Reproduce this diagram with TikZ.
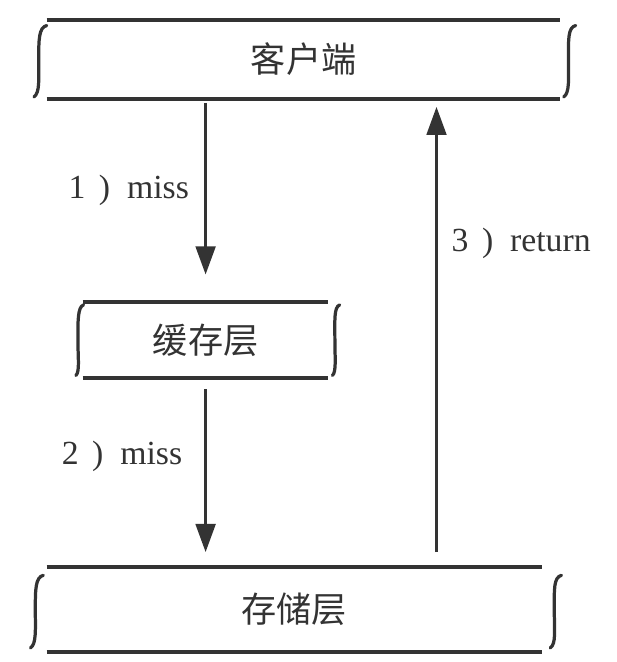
\documentclass[tikz,border=0pt]{standalone}
\usepackage{fontspec}
\setmainfont{Liberation Serif}
\newfontfamily\cjk{Noto Sans CJK SC}
\usetikzlibrary{arrows.meta}

\tikzset{
  layer/.style={minimum height=1.95cm, inner sep=0pt, font=\cjk\fontsize{25}{30}\selectfont, text=black!80},
  rim/.style={line width=2.6pt, draw=black!80},
  side/.style={line width=2.3pt, draw=black!80, line cap=round},
  flow/.style={line width=2.1pt, draw=black!80, -{Triangle[length=20pt,width=14pt]}},
  steplabel/.style={font=\fontsize{24}{28}\selectfont, text=black!80}
}

\begin{document}
\begin{tikzpicture}
		\useasboundingbox (0,0) rectangle (15.4,16.55);
		\node[layer, minimum width=12.83cm] (client) at (7.59,15.06) {客户端};
		\node[layer, minimum width=6.13cm, minimum height=1.9cm] (cache) at (5.14,8.05) {缓存层};
		\node[layer, minimum width=12.38cm, minimum height=2.1cm] (store) at (7.36,1.31) {存储层};
		\coordinate (back) at (10.9125,8);
		% top and bottom edges
		\draw[rim] (client.north west) -- (client.north east);
		\draw[rim] (client.south west) -- (client.south east);
		\draw[rim] (cache.north west) -- (cache.north east);
		\draw[rim] (cache.south west) -- (cache.south east);
		\draw[rim] (store.north west) -- (store.north east);
		\draw[rim] (store.south west) -- (store.south east);
		% curled sides
		\draw[side] ([xshift=0cm,yshift=-0.13cm]client.north west) .. controls +(-0.2,-0.05) and +(0,0.5) .. ([xshift=-0.2cm]client.west) .. controls +(0,-0.5) and +(0.15,0.1) .. ([xshift=-0.32cm,yshift=0.05cm]client.south west);
		\draw[side] ([xshift=0.38cm,yshift=-0.13cm]client.north east) .. controls +(-0.2,-0.05) and +(0,0.5) .. ([xshift=0.2cm]client.east) .. controls +(0,-0.5) and +(0.15,0.1) .. ([xshift=0.08cm,yshift=0.05cm]client.south east);
		\draw[side] ([xshift=0.02cm,yshift=-0.08cm]cache.north west) .. controls +(-0.15,-0.05) and +(0,0.45) .. ([xshift=-0.12cm]cache.west) .. controls +(0,-0.45) and +(0.1,0.1) .. ([xshift=-0.17cm,yshift=0.07cm]cache.south west);
		\draw[side] ([xshift=0.28cm,yshift=-0.08cm]cache.north east) .. controls +(-0.15,-0.05) and +(0,0.45) .. ([xshift=0.16cm]cache.east) .. controls +(0,-0.45) and +(0.1,0.1) .. ([xshift=0.1cm,yshift=0.07cm]cache.south east);
		\draw[side] ([xshift=-0.08cm,yshift=-0.2cm]store.north west) .. controls +(-0.2,-0.05) and +(0,0.5) .. ([xshift=-0.28cm]store.west) .. controls +(0,-0.5) and +(0.15,0.1) .. ([xshift=-0.4cm,yshift=0.1cm]store.south west);
		\draw[side] ([xshift=0.48cm,yshift=-0.2cm]store.north east) .. controls +(-0.2,-0.05) and +(0,0.5) .. ([xshift=0.3cm]store.east) .. controls +(0,-0.5) and +(0.15,0.1) .. ([xshift=0.2cm,yshift=0.1cm]store.south east);
		% request and answer
		\draw[flow, shorten <=0.1cm, shorten >=0.68cm] (cache.north |- client.south) -- (cache.north);
		\draw[flow, shorten <=0.28cm, shorten >=0.38cm] (cache.south) -- (cache.south |- store.north);
		\draw[flow, shorten <=0.38cm, shorten >=0.2cm] (store.north -| back) -- (client.south -| back);
		\node[steplabel] (miss1) at (3.22,11.8) {1\hspace{0.4em})\hspace{0.5em}miss};
		\node[steplabel] (miss2) at (3.05,5.13) {2\hspace{0.4em})\hspace{0.5em}miss};
		\node[steplabel] (ret) at (13.03,10.47) {3\hspace{0.4em})\hspace{0.5em}return};
	\end{tikzpicture}
\end{document}
